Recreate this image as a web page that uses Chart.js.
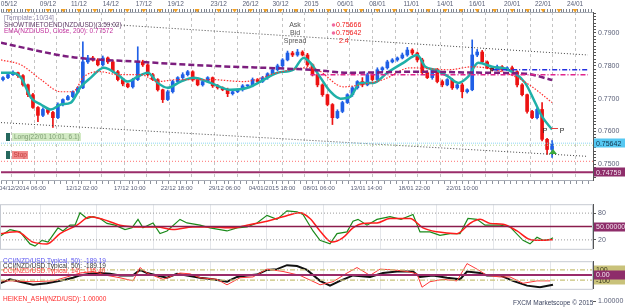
<!DOCTYPE html>
<html>
<head>
<meta charset="utf-8">
<title>NZD/USD</title>
<script src="https://cdn.jsdelivr.net/npm/chart.js@4.4.1/dist/chart.umd.min.js"></script>
<style>
  html, body { margin: 0; padding: 0; background: #fff; }
  #wrap { position: relative; width: 625px; height: 307px; overflow: hidden; background: #fff; }
  canvas { position: absolute; left: 0; }
</style>
</head>
<body>
<div id="wrap">
  <canvas id="mainChart" width="625" height="198" style="top:0px"></canvas>
  <canvas id="stochChart" width="625" height="57" style="top:198px"></canvas>
  <canvas id="cciChart" width="625" height="40" style="top:255px"></canvas>
  <canvas id="haChart" width="625" height="12" style="top:295px"></canvas>
</div>
<script>
// NZD/USD 4H candles (index 0 = 04/12/2014)
const firstOpen = 0.7758;
const closes = [
  0.7764, 0.7773, 0.7779, 0.7770, 0.7742, 0.7712, 0.7673, 0.7649, 0.7667, 0.7658,
  0.7642, 0.7682, 0.7697, 0.7706, 0.7721, 0.7733, 0.7812, 0.7824, 0.7818, 0.7803,
  0.7824, 0.7812, 0.7782, 0.7758, 0.7745, 0.7736, 0.7758, 0.7812, 0.7803, 0.7773,
  0.7758, 0.7727, 0.7697, 0.7721, 0.7752, 0.7764, 0.7773, 0.7782, 0.7758, 0.7742,
  0.7752, 0.7764, 0.7739, 0.7733, 0.7727, 0.7715, 0.7721, 0.7727, 0.7739, 0.7739,
  0.7758, 0.7752, 0.7764, 0.7776, 0.7788, 0.7800, 0.7818, 0.7839, 0.7833, 0.7842,
  0.7833, 0.7803, 0.7773, 0.7742, 0.7712, 0.7682, 0.7642, 0.7661, 0.7688, 0.7712,
  0.7733, 0.7752, 0.7742, 0.7773, 0.7758, 0.7788, 0.7794, 0.7812, 0.7818, 0.7824,
  0.7833, 0.7848, 0.7839, 0.7818, 0.7779, 0.7764, 0.7788, 0.7752, 0.7742, 0.7758,
  0.7733, 0.7742, 0.7721, 0.7727, 0.7833, 0.7842, 0.7812, 0.7794, 0.7788, 0.7797,
  0.7788, 0.7794, 0.7782, 0.7742, 0.7712, 0.7661, 0.7642, 0.7667, 0.7576, 0.7545,
  0.7562
];
// wick lengths above / below the body, in pips
const wickUp = [
  3, 4, 6, 2, 3, 2, 4, 3, 5, 2,
  3, 5, 2, 4, 3, 4, 61, 8, 5, 4,
  6, 3, 5, 4, 3, 2, 4, 46, 5, 3,
  4, 3, 2, 5, 4, 3, 6, 4, 3, 5,
  4, 3, 2, 4, 3, 5, 3, 2, 4, 3,
  5, 3, 4, 3, 4, 5, 4, 6, 5, 8,
  4, 5, 3, 4, 3, 2, 3, 5, 4, 3,
  4, 3, 12, 5, 4, 6, 3, 5, 4, 3,
  6, 8, 4, 3, 5, 6, 3, 4, 5, 3,
  4, 3, 5, 3, 46, 8, 5, 3, 4, 5,
  4, 3, 5, 3, 4, 2, 3, 4, 21, 3,
  10
];
const wickDown = [
  4, 3, 2, 5, 4, 6, 3, 19, 4, 5,
  30, 3, 4, 2, 3, 4, 3, 5, 4, 3,
  4, 5, 3, 4, 6, 3, 4, 3, 5, 4,
  3, 4, 9, 3, 4, 2, 3, 4, 5, 3,
  4, 3, 5, 4, 3, 9, 4, 3, 4, 5,
  3, 4, 3, 5, 4, 3, 4, 3, 5, 4,
  3, 5, 4, 6, 5, 4, 21, 3, 4, 3,
  5, 4, 6, 3, 4, 3, 5, 4, 3, 4,
  3, 4, 5, 6, 4, 3, 5, 4, 6, 3,
  5, 4, 18, 4, 3, 5, 4, 3, 4, 3,
  4, 3, 5, 6, 4, 5, 3, 4, 5, 15,
  24
];

// overlays: [candle index, price]
const emaFast = [[-0.4,0.7779],[1.6,0.7779],[3.6,0.7764],[5.6,0.7703],[7.6,0.7682],[9.6,0.7667],[11.6,0.7682],[13.6,0.7688],[15.6,0.7736],[17.6,0.7764],[20.2,0.7794],[23,0.7773],[25,0.7752],[27,0.7767],[29,0.7779],[31,0.7748],[33,0.7733],[35.6,0.7752],[38.2,0.7764],[41.6,0.7748],[45.6,0.7727],[49,0.7733],[51.6,0.7752],[55,0.7779],[58.2,0.7788],[60.2,0.7824],[61.6,0.7809],[63.6,0.7764],[65.6,0.7721],[67.6,0.7700],[69.6,0.7706],[71.6,0.7748],[74.2,0.7748],[77,0.7779],[80.2,0.7809],[83,0.7833],[84.6,0.7797],[86.6,0.7788],[89.2,0.7767],[91.2,0.7748],[93.2,0.7767],[95.2,0.7809],[98,0.7797],[101.2,0.7788],[104.6,0.7748],[106.6,0.7688],[108,0.7645],[110,0.7606]];
const emaSlow = [[-0.4,0.7818],[3.6,0.7803],[7.6,0.7758],[11.6,0.7721],[14,0.7721],[16.2,0.7767],[19.6,0.7782],[23,0.7773],[27.6,0.7773],[31,0.7752],[35,0.7758],[41.6,0.7758],[48.2,0.7752],[55,0.7779],[61,0.7794],[63,0.7788],[68.2,0.7736],[71.6,0.7742],[76.2,0.7758],[81.6,0.7794],[89.2,0.7788],[94,0.7797],[102.6,0.7767],[106,0.7736],[110,0.7688]];
const ema200 = [[-0.4,0.7870],[13.6,0.7827],[27.6,0.7812],[41.6,0.7800],[61.6,0.7788],[69.6,0.7779],[83.6,0.7782],[96,0.7779],[104.6,0.7776],[110,0.7757]];
const channelTop = [[20.6,0.7927],[117.2,0.7833]];
const channelBottom = [[-0.4,0.7627],[117.2,0.7524]];
const resistDashDot = [[61.6,0.7773],[117.2,0.7773]];
const pivotDashDot = [[98,0.7788],[117.2,0.7788]];
const bidPrice = 0.75642;
const entryPrice = 0.7558;
const stopPrice = 0.7509;
const lowLevel = 0.74759;

// axis labels
const priceTicks = [0.75, 0.76, 0.77, 0.78, 0.79];
const topLabels = ['05/12','09/12','11/12','14/12','17/12','19/12','23/12','26/12','30/12','2015','06/01','08/01','11/01','14/01','16/01','20/01','22/01','24/01'];
const topLabelIdx = [1.2, 9, 15.2, 21.6, 28.2, 34.6, 43.2, 49.6, 55.6, 61.8, 68.6, 75, 81.8, 88.6, 95, 102, 108.2, 114.6];
const bottomLabels = ['04/12/2014 06:00','12/12 02:00','17/12 10:00','22/12 18:00','29/12 06:00','04/01/2015 18:00','08/01 06:00','13/01 14:00','18/01 22:00','22/01 10:00'];
const bottomLabelIdx = [3.9, 15.8, 25.4, 34.8, 44.4, 53.9, 63.3, 72.8, 82.4, 92];

// stochastic panel (%K green, %D red)
const stochK = [[-0.4,28],[1.6,43],[3.6,38],[5.6,11],[6.6,6],[8,19],[9.2,15],[11.2,47],[12.2,40],[13.6,53],[14.6,53],[15.6,81],[17,68],[18.2,72],[19.6,68],[21,57],[22.6,53],[24.6,43],[26,47],[27.2,66],[28.2,47],[30.2,58],[31.6,34],[33,40],[35.6,66],[37,58],[39.6,53],[41.6,47],[45,40],[47,47],[49,49],[51,58],[53,75],[55,66],[57,85],[59,83],[60.2,77],[62.2,40],[63.6,19],[65.6,11],[67,34],[69,38],[70.2,62],[71.2,66],[73,53],[75,66],[77.6,72],[79.8,66],[82.2,77],[83.6,38],[85.6,38],[87.6,30],[89.6,34],[91.6,34],[93.2,68],[95,66],[96.6,53],[99.6,53],[101.6,49],[104.2,19],[105.6,11],[107,26],[108.2,19],[109.6,21],[110.2,25]];
const stochD = [[-0.4,34],[3,38],[6.2,15],[9,11],[11.6,34],[15,53],[17.6,72],[20.2,66],[23.6,53],[27.6,49],[31,49],[34.2,43],[38.2,49],[41.6,49],[46.2,47],[49,53],[53,62],[56.2,72],[59.6,81],[61.6,68],[63.6,40],[66,15],[68.2,25],[70.2,47],[72.2,57],[75,58],[77.6,68],[81.6,68],[84.2,47],[87,38],[91,34],[93.6,57],[95.6,66],[97.6,57],[100.2,55],[103,40],[105.6,21],[108.2,19],[110.2,21]];
const stochLevels = [20, 80];

// CCI panel
const cci50 = [[-0.4,-162],[1.6,-85],[3.6,-131],[6.2,-192],[9,-162],[11.6,-115],[14.2,-54],[15.6,-8],[17.6,23],[19.6,38],[21.6,23],[23.6,-8],[26.2,-8],[27.6,100],[29,38],[31,-8],[33,-54],[35,23],[37,-8],[39.6,-54],[42.2,-85],[45,-131],[47,-38],[49,-8],[51,8],[53,100],[55,115],[57,192],[59,177],[61,100],[63.6,-115],[65.6,-208],[67.6,-115],[70.2,-8],[73.6,-38],[76.2,38],[79,69],[82.2,69],[83.6,-38],[86.2,-8],[89,-54],[91.6,-85],[93,69],[95.6,38],[97,-8],[99.6,-8],[102.2,-115],[105,-208],[107.6,-239],[110.2,-189]];
const cci14 = [[-0.4,-115],[2.2,-115],[6.2,-131],[10.2,-115],[13,-38],[15.6,38],[18.2,69],[21,-8],[23.6,-54],[26.2,-115],[27.6,146],[29,38],[32.2,-85],[35.6,38],[37.6,23],[39.6,-54],[43,-85],[45,-192],[47.6,-54],[50.2,-38],[53,115],[56.2,69],[59.6,-8],[63,-162],[63.6,-192],[66.2,-131],[69,38],[71,146],[73.6,-8],[75.6,115],[78.2,100],[81,69],[83,23],[84,-239],[85.6,-131],[88.2,-85],[91,-115],[93,223],[95,115],[97,-8],[99.6,-38],[101.6,-38],[104.2,-162],[107,-115],[109.6,-115]];
const cciLevels = [100, -100];

// Heiken Ashi direction per candle (g = up, r = down)
const haColors = 'gggrrrrrgrrgggggggrrgrrrrrggrrrrrgggggrrggrrrrggggggggggggggrrrrrrrgggggrgrgggggggrrrrgrrrrrrrggrrrgrrrrrrrrrrg';

const X_MIN = -0.4, X_MAX = 118.2;
const FONT = '"Liberation Sans", Arial, sans-serif';
const AXIS_TEXT = '#5b6179';

// opens follow the previous close
const opens = closes.map((c, i) => i === 0 ? firstOpen : closes[i - 1]);
const highs = closes.map((c, i) => Math.max(c, opens[i]) + wickUp[i] / 10000);
const lows = closes.map((c, i) => Math.min(c, opens[i]) - wickDown[i] / 10000);
const candleColor = closes.map((c, i) => c >= opens[i] ? '#1f5fe6' : '#ec1212');

function pts(arr) {
    return arr.map(p => ({ x: p[0], y: p[1] }));
}

function lineSet(points, color, width, dash, smooth) {
    return {
        type: 'line',
        data: pts(points),
        borderColor: color,
        borderWidth: width,
        borderDash: dash || [],
        pointRadius: 0,
        fill: false,
        tension: smooth ? 0.4 : 0,
        cubicInterpolationMode: smooth ? 'monotone' : 'default',
        order: 1
    };
}

function levelSet(value, color, width, dash) {
    return lineSet([[X_MIN, value], [X_MAX, value]], color, width, dash, false);
}

function drawText(ctx, s, x, y, color, size, align) {
    ctx.font = size + 'px ' + FONT;
    ctx.fillStyle = color;
    ctx.textAlign = align || 'left';
    ctx.textBaseline = 'middle';
    ctx.fillText(s, x, y);
}

function drawTag(ctx, s, x, y, bg, fg) {
    ctx.fillStyle = bg;
    ctx.fillRect(x, Math.round(y) - 4.5, 625 - x, 9);
    drawText(ctx, s, x + 2, y + 0.5, fg, 7);
}

function frame(chart, color) {
    const a = chart.chartArea;
    const ctx = chart.ctx;
    ctx.save();
    ctx.strokeStyle = color;
    ctx.lineWidth = 1;
    ctx.strokeRect(a.left + 0.5, a.top + 0.5, a.right - a.left - 1, a.bottom - a.top);
    ctx.restore();
}

// minor tick helper for axis strips; labelled ticks replace nearby minor ones
function stepTicks(from, to, step, extra) {
    const keep = extra || [];
    const out = [];
    for (let v = from; v <= to + 1e-9; v += step) {
        const r = +v.toFixed(4);
        if (!keep.some(e => Math.abs(e - r) < step / 2)) out.push(r);
    }
    return out.concat(keep).sort((a, b) => a - b).map(v => ({ value: v }));
}

function findLabel(list, idxList, v) {
    const k = idxList.findIndex(p => Math.abs(p - v) < 1e-6);
    return k >= 0 ? list[k] : '';
}

// vertical grid axis shared by the panels
function gridAxis(step, start, color, dash) {
    return {
        type: 'linear', position: 'bottom', min: X_MIN, max: X_MAX, offset: false,
        afterBuildTicks: s => { s.ticks = stepTicks(start, X_MAX, step); },
        ticks: { display: false },
        grid: { color: color, drawTicks: false, offset: false },
        border: { display: false, dash: dash || [] },
        afterFit: s => { s.height = 0; }
    };
}

function rightAxis(min, max, tickValues, labelFn) {
    return {
        type: 'linear', position: 'right', min: min, max: max,
        afterBuildTicks: s => { s.ticks = tickValues.map(v => ({ value: v })); },
        ticks: { callback: labelFn, color: AXIS_TEXT, font: { size: 7, family: FONT }, padding: 2, autoSkip: false },
        grid: { drawOnChartArea: false, tickLength: 3, color: '#555' },
        border: { color: '#555' },
        afterFit: s => { s.width = 32; }
    };
}

// ---------- main price chart ----------
const mainOverlay = {
    id: 'mainOverlay',
    afterDraw(chart) {
        const ctx = chart.ctx;
        const x = chart.scales.x;
        const y = chart.scales.y;
        ctx.save();

        // day markers on the top time strip
        const marks = topLabelIdx.slice();
        for (let k = 0; k < topLabelIdx.length - 1; k++) marks.push((topLabelIdx[k] + topLabelIdx[k + 1]) / 2);
        ctx.fillStyle = '#f2a024';
        marks.forEach(v => {
            const px = x.getPixelForValue(v);
            ctx.beginPath();
            ctx.moveTo(px - 2.5, 9);
            ctx.lineTo(px + 2.5, 9);
            ctx.lineTo(px, 12.5);
            ctx.closePath();
            ctx.fill();
        });

        // indicator legend
        drawText(ctx, '[Template: 10/34]', 4, 18.5, '#8a84a6', 6.5);
        drawText(ctx, 'SHOWTIMETOEND(NZD/USD)(3:59:02)', 4, 25, '#5e3a66', 6.5);
        drawText(ctx, 'EMA(NZD/USD, Close, 200): 0.77572', 4, 31.5, '#c02f9c', 6.5);

        // ask / bid box
        drawText(ctx, 'Ask', 295, 25, '#555', 7, 'center');
        drawText(ctx, 'Bid', 295, 33, '#555', 7, 'center');
        drawText(ctx, 'Spread', 295, 41, '#555', 7, 'center');
        ctx.fillStyle = '#f06aa0';
        [25, 33].forEach(py => { ctx.beginPath(); ctx.arc(333.5, py, 1.8, 0, Math.PI * 2); ctx.fill(); });
        drawText(ctx, '0.75666', 336, 25, '#f01a1a', 7);
        drawText(ctx, '0.75642', 336, 33, '#f01a1a', 7);
        drawText(ctx, '2.4', 339, 41, '#f01a1a', 7);

        // order labels
        ctx.fillStyle = '#26685e';
        ctx.fillRect(6, 133, 4, 8);
        ctx.fillRect(6, 151, 4, 8);
        ctx.fillStyle = '#d2eac4';
        ctx.fillRect(12, 133, 69, 8);
        drawText(ctx, 'Long(22/01 10:01, 6.1)', 14, 137.5, '#7d9c72', 6.5);
        ctx.fillStyle = '#f08c8c';
        ctx.fillRect(12, 151, 16, 8);
        drawText(ctx, 'Stop', 13.5, 155.5, '#c23b3b', 6.5);

        // pivot markers
        drawText(ctx, 'P', 492, 71, '#222', 6.5, 'center');
        drawText(ctx, 'P', 545, 131, '#222', 7, 'center');
        drawText(ctx, 'P', 562, 131, '#222', 7, 'center');
        ctx.strokeStyle = '#e04040';
        ctx.beginPath(); ctx.moveTo(551, 128.5); ctx.lineTo(558, 128.5); ctx.stroke();
        ctx.fillStyle = '#3aa83a';
        ctx.beginPath(); ctx.moveTo(553, 149); ctx.lineTo(557, 154); ctx.lineTo(549, 154); ctx.closePath(); ctx.fill();

        // price tags on the right axis
        drawTag(ctx, '0.75642', 594, y.getPixelForValue(bidPrice), '#55c8f2', '#12324a');
        drawTag(ctx, '0.74759', 594, y.getPixelForValue(lowLevel), '#8e2d6a', '#f4e6f0');
        ctx.restore();
    }
};

new Chart(document.getElementById('mainChart'), {
    type: 'bar',
    data: {
        datasets: [
            levelSet(bidPrice, '#8fd6f4', 1, [1, 1]),
            levelSet(entryPrice, '#b6dca0', 1, [1, 2]),
            levelSet(stopPrice, '#ff7070', 1, [1, 2]),
            levelSet(lowLevel, '#9a2c6a', 2, []),
            lineSet(channelTop, '#444', 1, [1, 2]),
            lineSet(channelBottom, '#444', 1, [1, 2]),
            lineSet(resistDashDot, '#e0248c', 1.5, [5, 2, 1, 2]),
            lineSet(pivotDashDot, '#2632e0', 1.5, [5, 2, 1, 2]),
            {
                type: 'bar',
                data: closes.map((c, i) => ({ x: i, y: [lows[i], highs[i]] })),
                backgroundColor: candleColor,
                barThickness: 1,
                grouped: false,
                order: 10
            },
            {
                type: 'bar',
                data: closes.map((c, i) => ({ x: i, y: [opens[i], c] })),
                backgroundColor: candleColor,
                barThickness: 3,
                minBarLength: 1,
                grouped: false,
                order: 9
            },
            lineSet(ema200, '#7c1e7e', 2.5, [6, 3], true),
            lineSet(emaSlow, '#ff3030', 1.2, [1.5, 1.5], true),
            lineSet(emaFast, '#1fb0a8', 2.5, [], true)
        ]
    },
    options: {
        responsive: false,
        devicePixelRatio: 1,
        animation: false,
        layout: { padding: 0 },
        plugins: { legend: { display: false }, tooltip: { enabled: false } },
        scales: {
            x: {
                type: 'linear', position: 'bottom', min: X_MIN, max: X_MAX, offset: false,
                afterBuildTicks: s => { s.ticks = stepTicks(X_MIN, X_MAX, 1.2, bottomLabelIdx); },
                ticks: {
                    callback: v => findLabel(bottomLabels, bottomLabelIdx, v),
                    autoSkip: false, maxRotation: 0, minRotation: 0,
                    color: AXIS_TEXT, font: { size: 6, family: FONT }, padding: 1
                },
                grid: { drawOnChartArea: false, tickLength: 4, color: '#8d929c', offset: false },
                border: { color: '#a8adb6' },
                afterFit: s => { s.height = 18; }
            },
            xg: gridAxis(4.52, 1.7, '#c4c4c4', [3, 3]),
            xt: {
                type: 'linear', position: 'top', min: X_MIN, max: X_MAX, offset: false,
                afterBuildTicks: s => { s.ticks = stepTicks(X_MIN, X_MAX, 0.55, topLabelIdx); },
                ticks: {
                    callback: v => findLabel(topLabels, topLabelIdx, v),
                    autoSkip: false, maxRotation: 0, minRotation: 0,
                    color: AXIS_TEXT, font: { size: 6.5, family: FONT }, padding: 1
                },
                grid: { drawOnChartArea: false, tickLength: 3, color: '#7d828c', offset: false },
                border: { color: '#a8adb6' },
                afterFit: s => { s.height = 12; }
            },
            y: rightAxis(0.7452, 0.7964, stepTicks(0.746, 0.796, 0.001).map(t => t.value),
                v => priceTicks.some(p => Math.abs(p - v) < 1e-6) ? v.toFixed(4) : '')
        }
    },
    plugins: [mainOverlay]
});

// ---------- stochastic ----------
new Chart(document.getElementById('stochChart'), {
    type: 'line',
    data: {
        datasets: [
            levelSet(stochLevels[0], '#9a9a9a', 1, [1, 2]),
            levelSet(stochLevels[1], '#9a9a9a', 1, [1, 2]),
            levelSet(50, '#8a1c4c', 1.5, []),
            lineSet(stochD, '#ff1c1c', 1.5, [], true),
            lineSet(stochK, '#1a8a1a', 1.2, [], false)
        ]
    },
    options: {
        responsive: false,
        devicePixelRatio: 1,
        animation: false,
        layout: { padding: { top: 2, bottom: 2 } },
        plugins: { legend: { display: false }, tooltip: { enabled: false } },
        scales: {
            x: gridAxis(11.34, 7.6, '#e4e6ea'),
            y: rightAxis(0, 100, [20, 50, 80], v => v === 50 ? '' : String(v))
        }
    },
    plugins: [{
        id: 'stochFrame',
        afterDraw(chart) {
            frame(chart, '#c6cad2');
            const ctx = chart.ctx;
            ctx.save();
            drawTag(ctx, '50.00000', 594, chart.scales.y.getPixelForValue(50), '#8e2d6a', '#f4e6f0');
            ctx.restore();
        }
    }]
});

// ---------- CCI ----------
new Chart(document.getElementById('cciChart'), {
    type: 'line',
    data: {
        datasets: [
            levelSet(cciLevels[0], '#c9c27a', 1.2, [5, 2, 1, 2]),
            levelSet(cciLevels[1], '#c9c27a', 1.2, [5, 2, 1, 2]),
            levelSet(0, '#9a2c6a', 2, []),
            lineSet(cci14, '#ff3a3a', 1, [], false),
            lineSet(cci50, '#111', 2, [], false)
        ]
    },
    options: {
        responsive: false,
        devicePixelRatio: 1,
        animation: false,
        layout: { padding: { top: 2, bottom: 3 } },
        plugins: { legend: { display: false }, tooltip: { enabled: false } },
        scales: {
            x: gridAxis(11.34, 7.6, '#e4e6ea'),
            y: rightAxis(-270, 270, [-100, 0, 100], () => '')
        }
    },
    plugins: [{
        id: 'cciFrame',
        afterDraw(chart) {
            frame(chart, '#c6cad2');
            const ctx = chart.ctx;
            const y = chart.scales.y;
            ctx.save();
            drawText(ctx, 'CCI(NZD/USD.Typical, 50): -189.19', 3, 6.5, '#5a55f0', 6.5);
            drawText(ctx, 'CCI(NZD/USD.Typical, 50): -189.19', 3, 11.5, '#333', 6.5);
            drawText(ctx, 'CCI(NZD/USD.Typical, 14): -115.40', 3, 16.5, '#ff3a3a', 6.5);
            drawTag(ctx, '100', 594, y.getPixelForValue(100), '#c9c27a', '#3a3a20');
            drawTag(ctx, '-100', 594, y.getPixelForValue(-100), '#c9c27a', '#3a3a20');
            drawTag(ctx, '0.00', 594, y.getPixelForValue(0), '#8e2d6a', '#f4e6f0');
            ctx.restore();
        }
    }]
});

// ---------- Heiken Ashi strip ----------
new Chart(document.getElementById('haChart'), {
    type: 'bar',
    data: {
        datasets: [{
            data: closes.map((c, i) => ({ x: i, y: 1 })),
            backgroundColor: closes.map((c, i) => haColors[i] === 'g' ? '#22e022' : '#ee1818'),
            barThickness: 4,
            grouped: false
        }]
    },
    options: {
        responsive: false,
        devicePixelRatio: 1,
        animation: false,
        layout: { padding: { top: 6, bottom: 0 } },
        plugins: { legend: { display: false }, tooltip: { enabled: false } },
        scales: {
            x: { type: 'linear', min: X_MIN, max: X_MAX, offset: false, display: false },
            y: rightAxis(0, 1, [1], () => '1.00000')
        }
    },
    plugins: [{
        id: 'haText',
        afterDraw(chart) {
            const ctx = chart.ctx;
            ctx.save();
            drawText(ctx, 'HEIKEN_ASHI(NZD/USD): 1.00000', 3, 4, '#ff2a2a', 6.5);
            drawText(ctx, 'FXCM Marketscope \u00a9 2015', 513, 8, '#3c4460', 6.5);
            ctx.restore();
        }
    }]
});
</script>
</body>
</html>
